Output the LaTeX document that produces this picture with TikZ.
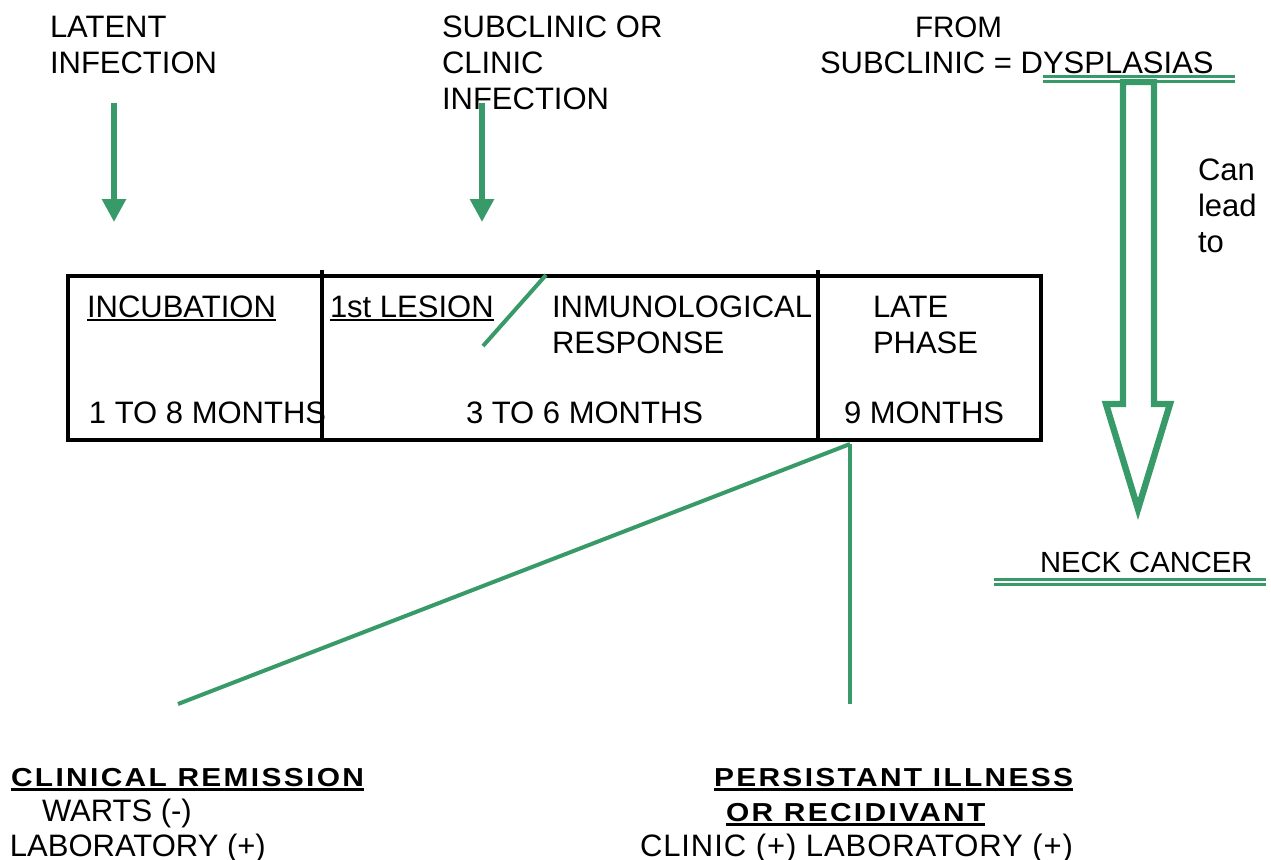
\documentclass[tikz,border=0pt]{standalone}
\usepackage{fontspec}
\setmainfont{Liberation Sans}
\newfontfamily\bsp[FakeStretch=1.15,LetterSpace=9]{Liberation Sans}
\newfontfamily\rsp[LetterSpace=3]{Liberation Sans}
\usetikzlibrary{arrows.meta}
\definecolor{grn}{RGB}{56,154,104}
\newcommand\ulreg[1]{\setbox0\hbox{#1}\rlap{\rule[-2pt]{\wd0}{1pt}}\box0}
\newcommand\ulbold[1]{\setbox0\hbox{#1}\rlap{\rule[-2.6pt]{\wd0}{1.5pt}}\box0}
\begin{document}
\begin{tikzpicture}[x=0.5pt,y=-0.5pt,
  txt/.style={anchor=base west,inner sep=0pt,outer sep=0pt,align=left,
    font=\fontsize{15.5}{18}\selectfont},
  btxt/.style={anchor=base west,inner sep=0pt,outer sep=0pt,
    font=\fontsize{13}{18}\selectfont\bsp\bfseries},
  garrow/.style={grn,line width=3.4pt,-{Triangle[width=11.5pt,length=11.5pt]}},
  gline/.style={grn,line width=2pt},
  dline/.style={grn,line width=1.3pt},
  blockarrow/.style={grn,line width=3.2pt,fill=white,line join=miter},
  boxline/.style={black,line width=2pt}]
\useasboundingbox (0,0) rectangle (1271,859);
% top labels (anchor = baseline of last line)
\node[txt] (latent) at (50,73) {LATENT\\INFECTION};
\node[txt] (subcl) at (442,109) {SUBCLINIC OR\\CLINIC\\INFECTION};
\node[txt,font=\fontsize{14.8}{18}\selectfont] (from) at (915,37) {FROM};
\node[txt] (dysp) at (820,73) {SUBCLINIC = DYSPLASIAS};
\node[txt] (can) at (1198,252) {Can\\lead\\to};
\node[txt,font=\fontsize{14.6}{18}\selectfont] (neck) at (1040,572) {NECK CANCER};
% arrows down
\coordinate (a1s) at (114,103); \coordinate (a1e) at (114,222);
\coordinate (a2s) at (482,103); \coordinate (a2e) at (482,222);
\draw[garrow] (a1s) -- (a1e);
\draw[garrow] (a2s) -- (a2e);
% box
\draw[boxline] (68,276) rectangle (1041,440);
\draw[boxline] (322,270) -- (322,438);
\draw[boxline] (818,270) -- (818,438);
\node[txt] (incub) at (87,317) {\ulreg{INCUBATION}};
\node[txt] (lesion) at (330,317) {\ulreg{1st LESION}};
\node[txt] (inmun) at (552,353) {INMUNOLOGICAL\\RESPONSE};
\node[txt] (late) at (873,353) {LATE\\PHASE};
\node[txt] (m1) at (89,423) {1 TO 8 MONTHS};
\node[txt] (m2) at (466,423) {3 TO 6 MONTHS};
\node[txt] (m3) at (844,423) {9 MONTHS};
\coordinate (s1) at (483,346); \coordinate (s2) at (546,275);
\draw[gline] (s1) -- (s2);
% double lines
\draw[dline] (1043,76.5) -- (1235,76.5);
\draw[dline] (1043,81.5) -- (1235,81.5);
\draw[dline] (994,579.5) -- (1266,579.5);
\draw[dline] (994,584.5) -- (1266,584.5);
% block arrow
\draw[blockarrow] (1123,82) -- (1123,404) -- (1106,404) -- (1138,509)
  -- (1170,404) -- (1154,404) -- (1154,82) -- cycle;
% branch lines
\coordinate (br) at (850,444);
\coordinate (bl) at (178,704);
\coordinate (bp) at (850,704);
\draw[gline] (br) -- (bl);
\draw[gline] (br) -- (bp);
% bottom texts
\node[btxt] (clin) at (11,786) {\ulbold{CLINICAL REMISSION}};
\node[txt] (warts) at (42,821) {WARTS (-)};
\node[txt] (lab1) at (10,856) {LABORATORY (+)};
\node[btxt] (pers) at (714,786) {\ulbold{PERSISTANT ILLNESS}};
\node[btxt] (recid) at (726,821) {\ulbold{OR RECIDIVANT}};
\node[txt,font=\fontsize{15.5}{18}\selectfont\rsp] (lab2) at (640,856) {CLINIC (+) LABORATORY (+)};
\end{tikzpicture}
\end{document}
